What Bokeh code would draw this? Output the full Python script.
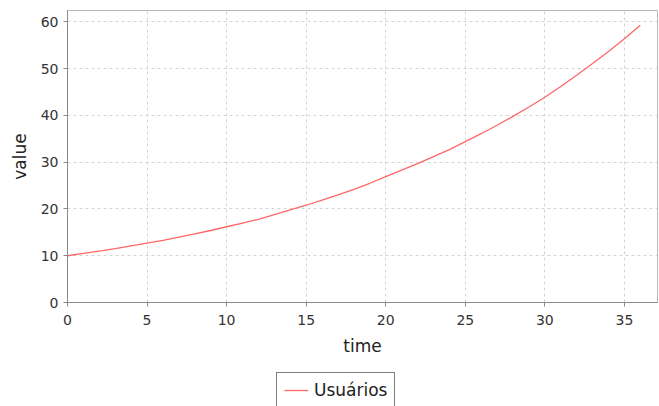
from bokeh.plotting import figure
from bokeh.models import Range1d, Legend, LegendItem, FixedTicker
from bokeh.layouts import column
from bokeh.embed import file_html
from bokeh.resources import INLINE

time = list(range(0, 37))
usuarios = [10.0, 10.5, 11.0, 11.5, 12.1, 12.7, 13.3, 14.0, 14.7, 15.4,
            16.2, 17.0, 17.8, 18.8, 19.8, 20.8, 21.9, 23.0, 24.2, 25.5,
            26.9, 28.3, 29.7, 31.2, 32.7, 34.4, 36.1, 37.9, 39.8, 41.8,
            43.9, 46.2, 48.6, 51.1, 53.7, 56.4, 59.3]
x_ticks = [0, 5, 10, 15, 20, 25, 30, 35]
y_ticks = [0, 10, 20, 30, 40, 50, 60]
series_name = "Usuários"
line_color = "#ff6666"

p = figure(width=659, height=370, output_backend="svg", toolbar_location=None,
           x_range=Range1d(0, 37.08), y_range=Range1d(0, 62.45),
           min_border_left=67, min_border_top=10, min_border_right=2,
           min_border_bottom=68, x_axis_label="time", y_axis_label="value")

p.background_fill_color = "white"
p.border_fill_color = "white"
p.outline_line_color = "#b8b8b8"
p.outline_line_width = 1

font = "DejaVu Sans"
for ax in (p.xaxis[0], p.yaxis[0]):
    ax.axis_line_color = "#8a8a8a"
    ax.major_tick_line_color = "#8a8a8a"
    ax.minor_tick_line_color = None
    ax.major_tick_in = 0
    ax.major_tick_out = 4
    ax.major_label_text_font = font
    ax.major_label_text_font_size = "14px"
    ax.major_label_text_color = "#333333"
    ax.axis_label_text_font = font
    ax.axis_label_text_font_size = "17px"
    ax.axis_label_text_font_style = "normal"
    ax.axis_label_text_color = "#222222"

p.xaxis[0].ticker = FixedTicker(ticks=x_ticks)
p.yaxis[0].ticker = FixedTicker(ticks=y_ticks)
p.xaxis[0].major_label_standoff = 8
p.yaxis[0].major_label_standoff = 5
p.xaxis[0].axis_label_standoff = 8
p.yaxis[0].axis_label_standoff = 8

for g in (p.xgrid[0], p.ygrid[0]):
    g.grid_line_color = "#d4d4d4"
    g.grid_line_dash = "3 3"
    g.grid_line_width = 1
p.xgrid[0].ticker = FixedTicker(ticks=x_ticks)
p.ygrid[0].ticker = FixedTicker(ticks=y_ticks)

p.line(time, usuarios, line_color=line_color, line_width=1.3)

# legend strip below the chart (its ranges keep the series out of view;
# only the legend swatch and label are visible)
lg = figure(width=659, height=36, output_backend="svg", toolbar_location=None,
            x_range=Range1d(-100, -90), y_range=Range1d(-100, -90),
            x_axis_type=None, y_axis_type=None, min_border=0)
lg.outline_line_color = None
lg.xgrid.visible = False
lg.ygrid.visible = False
lg.background_fill_color = "white"
lg.border_fill_color = "white"
swatch = lg.line(time, usuarios, line_color=line_color, line_width=1.3)

legend = Legend(items=[LegendItem(label=series_name, renderers=[swatch])],
                location=(209, -2), orientation="horizontal")
legend.border_line_color = "black"
legend.border_line_width = 1
legend.background_fill_color = "white"
legend.background_fill_alpha = 1
legend.label_text_font = font
legend.label_text_font_size = "17px"
legend.label_text_color = "#222222"
legend.padding = 7
legend.margin = 0
legend.glyph_width = 24
legend.label_standoff = 6
legend.spacing = 0
lg.add_layout(legend, "center")

layout = column(p, lg, spacing=0)
open("out.html", "w").write(file_html(layout, INLINE))
